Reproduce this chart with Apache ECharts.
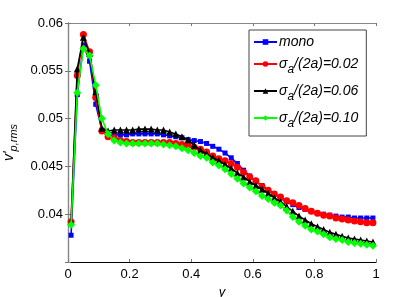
<!DOCTYPE html>
<html><head><meta charset="utf-8">
<script src="https://cdn.jsdelivr.net/npm/echarts@6/dist/echarts.min.js"></script>
<style>html,body{margin:0;padding:0;background:#fff}#c{width:415px;height:297px}</style>
</head><body><div id="c"></div>
<script>
const xs = [0.01,0.03,0.05,0.07,0.09,0.11,0.13,0.15,0.17,0.19,0.21,0.23,0.25,0.27,0.29,0.31,0.33,0.35,0.37,0.39,0.41,0.43,0.45,0.47,0.49,0.51,0.53,0.55,0.57,0.59,0.61,0.63,0.65,0.67,0.69,0.71,0.73,0.75,0.77,0.79,0.81,0.83,0.85,0.87,0.89,0.91,0.93,0.95,0.97,0.99];
const mono = [0.0378,0.0525,0.0577,0.0560,0.0515,0.0488,0.0483,0.0483,0.0483,0.0483,0.0484,0.0484,0.0484,0.0484,0.0484,0.0483,0.0482,0.0481,0.0480,0.0478,0.0477,0.0476,0.0474,0.0471,0.0468,0.0464,0.0459,0.0453,0.0446,0.0440,0.0434,0.0430,0.0425,0.0421,0.0417,0.0413,0.0410,0.0407,0.0405,0.0403,0.0401,0.0400,0.0399,0.0398,0.0397,0.0397,0.0396,0.0396,0.0396,0.0396];
const s002 = [0.0392,0.0545,0.0588,0.0570,0.0522,0.0487,0.0481,0.0480,0.0477,0.0476,0.0475,0.0475,0.0475,0.0475,0.0475,0.0475,0.0475,0.0474,0.0473,0.0472,0.0470,0.0468,0.0465,0.0461,0.0458,0.0456,0.0453,0.0449,0.0444,0.0439,0.0435,0.0429,0.0425,0.0421,0.0418,0.0414,0.0412,0.0409,0.0406,0.0403,0.0401,0.0399,0.0398,0.0396,0.0395,0.0394,0.0393,0.0392,0.0391,0.0391];
const s006 = [0.0392,0.0552,0.0585,0.0568,0.0528,0.0490,0.0487,0.0488,0.0488,0.0488,0.0488,0.0489,0.0489,0.0489,0.0488,0.0488,0.0486,0.0484,0.0481,0.0478,0.0472,0.0467,0.0463,0.0459,0.0456,0.0452,0.0448,0.0443,0.0439,0.0434,0.0430,0.0426,0.0422,0.0417,0.0413,0.0408,0.0403,0.0398,0.0394,0.0390,0.0387,0.0384,0.0381,0.0379,0.0377,0.0375,0.0374,0.0373,0.0372,0.0371];
const s010 = [0.0389,0.0527,0.0573,0.0566,0.0535,0.0500,0.0484,0.0477,0.0475,0.0474,0.0474,0.0474,0.0474,0.0474,0.0474,0.0473,0.0472,0.0471,0.0469,0.0467,0.0464,0.0461,0.0459,0.0454,0.0451,0.0447,0.0442,0.0437,0.0432,0.0428,0.0424,0.0419,0.0416,0.0412,0.0409,0.0404,0.0397,0.0392,0.0388,0.0384,0.0382,0.0379,0.0376,0.0374,0.0373,0.0371,0.0370,0.0369,0.0368,0.0367];
const seriesNames = ['mono','σa/(2a)=0.02','σa/(2a)=0.06','σa/(2a)=0.10'];
const legendLabels = ['{i|mono}','{i|σ}{sub|a}{i|/(2a)=0.02}','{i|σ}{sub|a}{i|/(2a)=0.06}','{i|σ}{sub|a}{i|/(2a)=0.10}'];
const xTicks = [0,0.2,0.4,0.6,0.8,1];
const yTickLabels = ['0.04','0.045','0.05','0.055','0.06'];

const pair = arr => xs.map((x,i)=>[x,arr[i]]);
const font = 'Liberation Sans';
const chart = echarts.init(document.getElementById('c'));
const colors = ['#0000ff','#ff0000','#000000','#00ff00'];
const symbols = ['rect','circle','triangle','diamond'];
const sizes = [5,7,7,8];
const datas = [mono,s002,s006,s010];
chart.setOption({
  animation:false,
  backgroundColor:'#fff',
  grid:{left:68,right:39,top:23,bottom:35,outerBoundsMode:'none',containLabel:false},
  legend:{
    orient:'vertical', left:249, top:30,
    backgroundColor:'#fff', borderColor:'#444', borderWidth:1,
    padding:[5,8,6,4], itemGap:8, itemWidth:23, itemHeight:7,
    data:seriesNames,
    formatter: n => legendLabels[seriesNames.indexOf(n)],
    textStyle:{fontFamily:font,fontSize:14,color:'#000',padding:[0,0,0,-3],
      rich:{i:{fontFamily:font,fontSize:14,fontStyle:'italic',color:'#000'},
            sub:{fontFamily:font,fontSize:12,fontStyle:'italic',color:'#000',padding:[12,0,0,0]}}}
  },
  xAxis:[{
    type:'value',min:0,max:1,interval:0.2,
    name:'y',nameLocation:'middle',nameGap:17,
    nameTextStyle:{fontFamily:font,fontSize:13,fontStyle:'italic',color:'#000'},
    axisLine:{lineStyle:{color:'#000',width:1.2}},
    axisTick:{inside:true,length:3,lineStyle:{color:'#777'}},
    axisLabel:{fontFamily:font,fontSize:13,color:'#000',margin:6,
      formatter:v=>{const k=xTicks.findIndex(t=>Math.abs(t-v)<1e-9);return k>=0?String(xTicks[k]):'';}},
    splitLine:{show:false}
  },{
    type:'value',position:'top',min:0,max:1,interval:0.2,
    axisLine:{show:true,lineStyle:{color:'#888',width:1}},
    axisTick:{inside:true,length:3,lineStyle:{color:'#777'}},
    axisLabel:{show:false},splitLine:{show:false}
  }],
  yAxis:[{
    type:'value',min:0.035,max:0.06,interval:0.005,
    name:"{v|v'}{sub|p,rms}",nameLocation:'middle',nameRotate:90,nameGap:47,
    nameTextStyle:{rich:{v:{fontFamily:font,fontSize:14,fontStyle:'italic',color:'#000'},
      sub:{fontFamily:font,fontSize:11,fontStyle:'italic',color:'#000',padding:[10,0,0,0]}}},
    axisLine:{show:true,lineStyle:{color:'#000',width:1.2}},
    axisTick:{inside:true,length:3,lineStyle:{color:'#777'}},
    axisLabel:{fontFamily:font,fontSize:13,color:'#000',margin:5,
      formatter:v=>{const k=Math.round((v-0.04)/0.005);return (k>=0&&k<yTickLabels.length&&Math.abs(v-0.04-k*0.005)<1e-7)?yTickLabels[k]:'';}},
    splitLine:{show:false}
  },{
    type:'value',position:'right',min:0.035,max:0.06,interval:0.005,
    axisLine:{show:true,lineStyle:{color:'#888',width:1}},
    axisTick:{inside:true,length:3,lineStyle:{color:'#777'}},
    axisLabel:{show:false},splitLine:{show:false}
  }],
  series: datas.map((d,i)=>({
    name:seriesNames[i],type:'line',data:pair(d),
    symbol:symbols[i],symbolSize:sizes[i],showAllSymbol:true,
    lineStyle:{color:colors[i],width:1.6},
    itemStyle:{color:colors[i],borderWidth:0},
    emphasis:{disabled:true},z:2+i
  }))
});
</script></body></html>
